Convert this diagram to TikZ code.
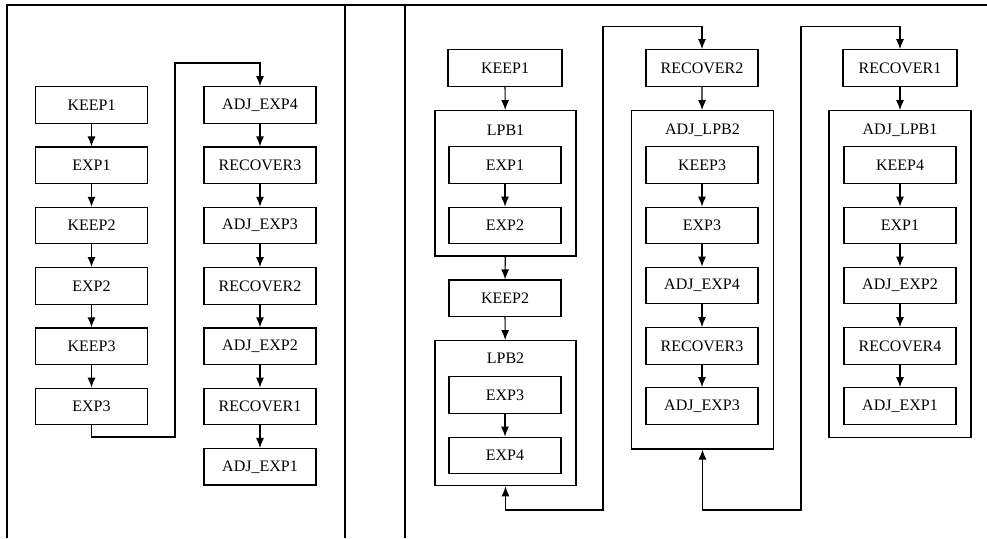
\documentclass[tikz,border=0pt]{standalone}
\usepackage{fontspec}
\setmainfont{Liberation Serif}
\usepackage{tikz}
\usetikzlibrary{arrows.meta}
\tikzstyle{stage}=[draw, line width=1.2pt, inner sep=0pt, minimum width=112pt, minimum height=36.5pt, font=\fontsize{16}{19}\selectfont]
\tikzstyle{group}=[draw, line width=1.2pt, inner sep=0pt, minimum width=141pt]
\tikzstyle{grouptitle}=[inner sep=0pt, font=\fontsize{16}{19}\selectfont]
\tikzstyle{flow}=[line width=1.2pt, -{Latex[length=10pt,width=8pt]}]
\tikzstyle{backflow}=[line width=1.2pt, {Latex[length=10pt,width=8pt]}-{Latex[length=10pt,width=8pt]}]

\begin{document}
\begin{tikzpicture}[x=1pt, y=-1pt]
        \useasboundingbox (0,0) rectangle (987,538);
        % table frame
        \draw[line width=1.2pt] (7,538) -- (7,5) -- (987,5);
        \draw[line width=1.2pt] (345,5) -- (345,538);
        \draw[line width=1.2pt] (405,5) -- (405,538);

        % left panel
        \node[stage] (k1) at (91.5,105) {KEEP1};
        \node[stage] (e1) at (91.5,165.3) {EXP1};
        \node[stage] (k2) at (91.5,225.6) {KEEP2};
        \node[stage] (e2) at (91.5,285.9) {EXP2};
        \node[stage] (k3) at (91.5,346.2) {KEEP3};
        \node[stage] (e3) at (91.5,406.5) {EXP3};
        \node[stage] (a4) at (260,105) {ADJ\_EXP4};
        \node[stage] (r3) at (260,165.3) {RECOVER3};
        \node[stage] (a3) at (260,225.6) {ADJ\_EXP3};
        \node[stage] (r2) at (260,285.9) {RECOVER2};
        \node[stage] (a2) at (260,346.2) {ADJ\_EXP2};
        \node[stage] (r1) at (260,406.5) {RECOVER1};
        \node[stage] (a1) at (260,466.8) {ADJ\_EXP1};
        \draw[flow] (k1) -- (e1);
        \draw[flow] (e1) -- (k2);
        \draw[flow] (k2) -- (e2);
        \draw[flow] (e2) -- (k3);
        \draw[flow] (k3) -- (e3);
        \draw[flow] (a4) -- (r3);
        \draw[flow] (r3) -- (a3);
        \draw[flow] (a3) -- (r2);
        \draw[flow] (r2) -- (a2);
        \draw[flow] (a2) -- (r1);
        \draw[flow] (r1) -- (a1);
        \coordinate (lbot) at (175,437);
        \coordinate (ltop) at (175,63);
        \draw[flow] (e3.south) |- (lbot) -- (ltop) -| (a4.north);

        % right panel, first column
        \node[group, minimum height=145.3pt] (lpb1) at (505.5,183.35) {};
        \node[grouptitle] (lpb1t) at (505.5,130) {LPB1};
        \node[group, minimum height=145pt] (lpb2) at (505.5,413.2) {};
        \node[grouptitle] (lpb2t) at (505.5,358) {LPB2};
        \node[stage, minimum width=114pt] (rk1) at (505,68) {KEEP1};
        \node[stage] (re1) at (505,165) {EXP1};
        \node[stage] (re2) at (505,225.5) {EXP2};
        \node[stage] (rk2) at (505,298.3) {KEEP2};
        \node[stage] (re3) at (505,395) {EXP3};
        \node[stage] (re4) at (505,455.5) {EXP4};
        \draw[flow] (rk1) -- (lpb1);
        \draw[flow] (re1) -- (re2);
        \draw[flow] (lpb1) -- (rk2);
        \draw[flow] (rk2) -- (lpb2);
        \draw[flow] (re3) -- (re4);

        % right panel, second column
        \node[group, minimum width=141.6pt, minimum height=338.3pt] (alpb2) at (702.5,279.85) {};
        \node[grouptitle] (alpb2t) at (702.5,130) {ADJ\_LPB2};
        \node[stage] (rr2) at (702,68) {RECOVER2};
        \node[stage] (rk3) at (702,165) {KEEP3};
        \node[stage] (rx3) at (702,225.5) {EXP3};
        \node[stage] (ra4) at (702,285.5) {ADJ\_EXP4};
        \node[stage] (rr3) at (702,346) {RECOVER3};
        \node[stage] (ra3) at (702,406) {ADJ\_EXP3};
        \draw[flow] (rr2) -- (alpb2);
        \draw[flow] (rk3) -- (rx3);
        \draw[flow] (rx3) -- (ra4);
        \draw[flow] (ra4) -- (rr3);
        \draw[flow] (rr3) -- (ra3);

        % right panel, third column
        \node[group, minimum width=142pt, minimum height=326.6pt] (alpb1) at (900,274) {};
        \node[grouptitle] (alpb1t) at (900,130) {ADJ\_LPB1};
        \node[stage, minimum width=114pt] (rr1) at (900,68) {RECOVER1};
        \node[stage] (rk4) at (900,165) {KEEP4};
        \node[stage] (rx1) at (900,225.5) {EXP1};
        \node[stage] (ra2) at (900,285.5) {ADJ\_EXP2};
        \node[stage] (rr4) at (900,346) {RECOVER4};
        \node[stage] (ra1) at (900,406) {ADJ\_EXP1};
        \draw[flow] (rr1) -- (alpb1);
        \draw[flow] (rk4) -- (rx1);
        \draw[flow] (rx1) -- (ra2);
        \draw[flow] (ra2) -- (rr4);
        \draw[flow] (rr4) -- (ra1);

        % links between columns
        \coordinate (rbot1) at (603,510);
        \coordinate (rtop1) at (603,26.7);
        \coordinate (rbot2) at (801,510);
        \coordinate (rtop2) at (801,26.7);
        \draw[backflow] (lpb2.south) |- (rbot1) -- (rtop1) -| (rr2.north);
        \draw[backflow] (alpb2.south) |- (rbot2) -- (rtop2) -| (rr1.north);
    \end{tikzpicture}
\end{document}
